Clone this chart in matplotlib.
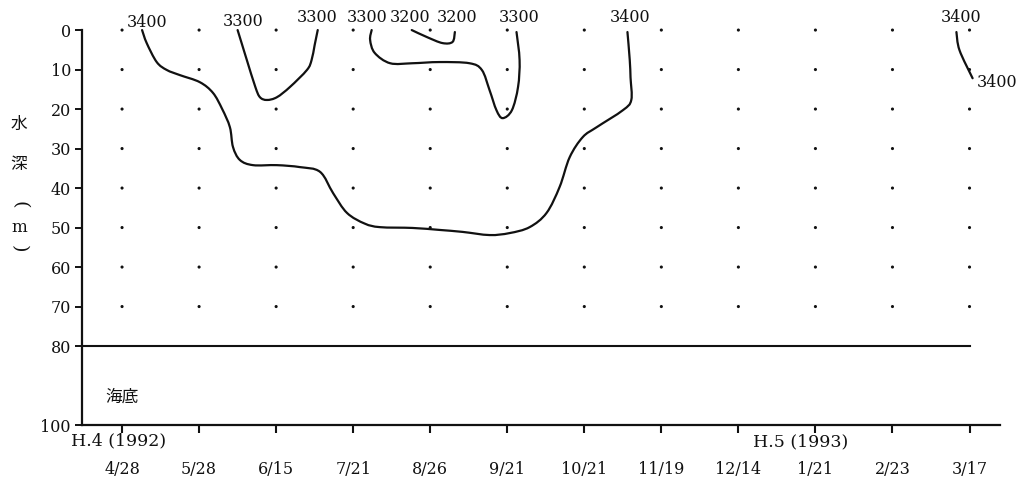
"""Seasonal depth section of isoline values (H.4-H.5)."""

import matplotlib

matplotlib.use("Agg")
import matplotlib.pyplot as plt
import matplotlib.transforms as mtransforms
import numpy as np
from matplotlib.patches import PathPatch
from matplotlib.path import Path

SERIF = ["DejaVu Serif"]
CJK = ["Noto Sans CJK JP", "DejaVu Sans"]
INK = "#111111"

# sampling dates (equally spaced columns) and sampled depths (m)
dates = ["4/28", "5/28", "6/15", "7/21", "8/26", "9/21",
         "10/21", "11/19", "12/14", "1/21", "2/23", "3/17"]
sample_depths = [0, 10, 20, 30, 40, 50, 60, 70]
depth_ticks = [0, 10, 20, 30, 40, 50, 60, 70, 80, 100]
seabed_depth = 80

# isolines traced from the section: (column position, depth)
iso_3400_x = [0.26, 0.32, 0.45, 0.58, 0.75, 1.01, 1.18, 1.30, 1.40, 1.44, 1.53, 1.70,
              2.01, 2.31, 2.57, 2.74, 2.92, 3.15, 3.35, 3.77, 4.12, 4.42, 4.77,
              5.03, 5.29, 5.51, 5.68, 5.81, 5.98, 6.16, 6.50, 6.61, 6.60, 6.59, 6.56]
iso_3400_d = [0.0, 3.3, 8.1, 10.1, 11.4, 13.2, 15.9, 20.0, 24.6, 29.6, 32.9, 34.2,
              34.2, 34.7, 35.9, 41.3, 46.3, 49.0, 49.9, 50.1, 50.6, 51.1, 51.9,
              51.4, 49.9, 46.3, 39.7, 32.2, 27.1, 24.6, 20.3, 17.7, 12.0, 7.6, 0.5]
iso_3300a_x = [1.50, 1.56, 1.62, 1.73, 1.79, 1.88, 2.01, 2.18, 2.40, 2.46, 2.50, 2.54]
iso_3300a_d = [0.0, 3.8, 7.6, 14.4, 17.0, 17.7, 17.0, 14.4, 10.1, 7.6, 3.8, 0.0]
iso_3300b_x = [3.24, 3.22, 3.28, 3.48, 3.77, 4.12, 4.51, 4.67, 4.77, 4.86, 4.94,
               5.06, 5.14, 5.16, 5.12]
iso_3300b_d = [0.0, 2.5, 5.8, 8.4, 8.4, 8.1, 8.4, 10.1, 15.2, 20.3, 22.3,
               20.3, 14.4, 7.6, 0.5]
iso_3200_x = [3.76, 3.96, 4.16, 4.29, 4.32]
iso_3200_d = [0.0, 1.8, 3.3, 3.0, 0.5]
iso_3400r_x = [10.83, 10.87, 11.04]
iso_3400r_d = [0.5, 5.1, 12.2]

# isoline labels: (text, column position, depth)
label_text = ["3400", "3300", "3300", "3300", "3200", "3200", "3300", "3400", "3400", "3400"]
label_x = [0.33, 1.57, 2.53, 3.18, 3.74, 4.35, 5.15, 6.59, 10.89, 11.36]
label_d = [-1.8, -2.2, -3.3, -3.3, -3.3, -3.3, -3.3, -3.3, -3.3, 13.2]


def _smooth_path(x, d, ax):
    """Catmull-Rom through the traced points, drawn as cubic Bezier segments in display space."""
    pts = ax.transData.transform(np.column_stack([x, d]))
    ext = np.vstack([pts[0], pts, pts[-1]])
    verts = [pts[0]]
    codes = [Path.MOVETO]
    for i in range(1, len(ext) - 2):
        p0, p1, p2, p3 = ext[i - 1], ext[i], ext[i + 1], ext[i + 2]
        verts += [p1 + (p2 - p0) / 6.0, p2 - (p3 - p1) / 6.0, p2]
        codes += [Path.CURVE4] * 3
    return Path(ax.transData.inverted().transform(np.array(verts)), codes)


def main() -> None:
    fig = plt.figure(figsize=(10.21, 4.88), dpi=100)
    ax = fig.add_axes([0.0803, 0.129, 0.8987, 0.8094])

    xs = np.arange(len(dates))
    ax.set_xlim(-0.52, 11.39)
    ax.set_ylim(100, 0)

    for i in xs:
        ax.scatter(np.full(len(sample_depths), i), sample_depths, s=5, color=INK,
                   edgecolors="none", clip_on=False, zorder=3)

    for x, d in [(iso_3400_x, iso_3400_d), (iso_3300a_x, iso_3300a_d),
                 (iso_3300b_x, iso_3300b_d), (iso_3200_x, iso_3200_d),
                 (iso_3400r_x, iso_3400r_d)]:
        ax.add_patch(PathPatch(_smooth_path(x, d, ax), fill=False, edgecolor=INK,
                               linewidth=1.6, capstyle="round", joinstyle="round",
                               clip_on=False))

    for t, x, d in zip(label_text, label_x, label_d):
        ax.text(x, d, t, ha="center", va="center", fontsize=11.5, family=SERIF,
                color=INK, clip_on=False)

    ax.plot([-0.52, xs[-1]], [seabed_depth, seabed_depth], color=INK, linewidth=1.5)
    ax.text(0.0, 93, "海底", ha="center", va="center", fontsize=12, family=CJK, color=INK)

    for side in ["top", "right"]:
        ax.spines[side].set_visible(False)
    for side in ["left", "bottom"]:
        ax.spines[side].set_linewidth(1.6)
        ax.spines[side].set_color(INK)

    ax.set_yticks(depth_ticks)
    ax.set_yticklabels([str(v) for v in depth_ticks], family=SERIF, fontsize=11.5)
    ax.tick_params(axis="y", direction="out", length=5, width=1.4, pad=3, colors=INK)

    ax.set_xticks(xs)
    ax.set_xticklabels(dates, family=SERIF, fontsize=11.5)
    ax.tick_params(axis="x", direction="out", length=6, width=1.5, pad=20, colors=INK)

    trans = mtransforms.blended_transform_factory(ax.transData, fig.transFigure)
    ax.text(-0.05, 1 - 441 / 488, "H.4 (1992)", transform=trans, ha="center", va="center",
            fontsize=12.5, family=SERIF, color=INK)
    ax.text(8.81, 1 - 442 / 488, "H.5 (1993)", transform=trans, ha="center", va="center",
            fontsize=12.5, family=SERIF, color=INK)

    ylab_chars = ["水", "深", "(", "m", ")"]
    ylab_y = [124, 164, 205, 228, 249]
    for ch, py in zip(ylab_chars, ylab_y):
        fam = CJK if ch in "水深" else SERIF
        rot = -90 if ch in "()" else 0
        size = 14 if ch in "()" else 12
        fig.text(19 / 1021, 1 - py / 488, ch, ha="center", va="center", fontsize=size,
                 family=fam, color=INK, rotation=rot)

    fig.savefig("out.png", dpi=100, facecolor="white")
    plt.close(fig)


if __name__ == "__main__":
    main()
